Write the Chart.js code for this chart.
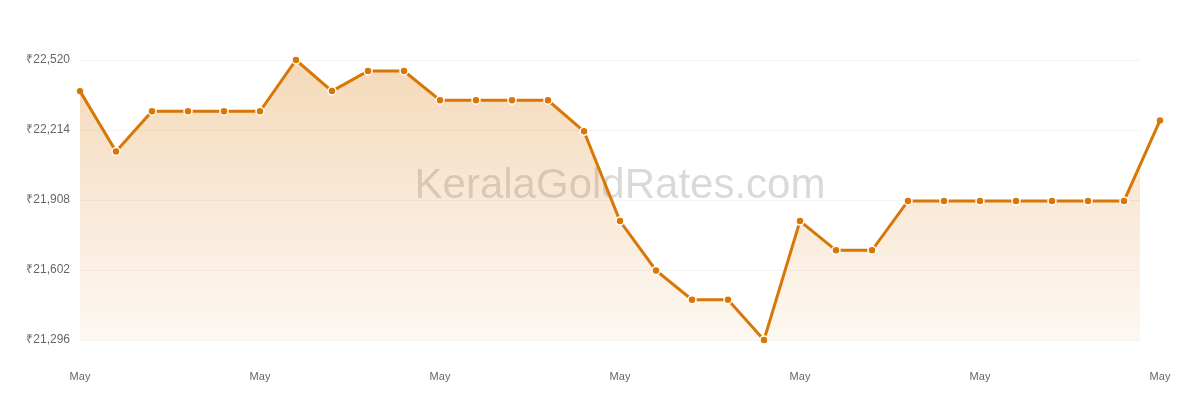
<!DOCTYPE html>
<html>
<head>
<meta charset="utf-8">
<script src="https://cdn.jsdelivr.net/npm/chart.js@4/dist/chart.umd.min.js"></script>
<style>
  html, body { margin: 0; padding: 0; background: #fff; }
  #wrap { width: 1200px; height: 400px; }
</style>
</head>
<body>
<div id="wrap"><canvas id="goldChart"></canvas></div>
<script>
// days of the month shown on the x axis
const days = [1, 2, 3, 4, 5, 6, 7, 8, 9, 10, 11, 12, 13, 14, 15, 16,
              17, 18, 19, 20, 21, 22, 23, 24, 25, 26, 27, 28, 29, 30, 31];
const monthLabel = 'May';
const labeledDays = [1, 6, 11, 16, 21, 26, 31];

// rate per 8 gram (₹)
const rates = [22384, 22120, 22296, 22296, 22296, 22296, 22520, 22384,
               22472, 22472, 22344, 22344, 22344, 22344, 22208, 21816,
               21600, 21472, 21472, 21296, 21816, 21688, 21688, 21904,
               21904, 21904, 21904, 21904, 21904, 21904, 22256];

const yTicks = [21296, 21602, 21908, 22214, 22520];

const lineColor = '#d97706';

Chart.defaults.font.family = "'Liberation Sans', Arial, Helvetica, sans-serif";

const watermark = {
    id: 'watermark',
    beforeDatasetsDraw(chart) {
        const c = chart.ctx;
        c.save();
        c.font = "42px 'Liberation Sans', Arial, sans-serif";
        c.fillStyle = 'rgba(0,0,0,0.15)';
        c.textAlign = 'center';
        c.textBaseline = 'middle';
        c.fillText('KeralaGoldRates.com', 620, 186);
        c.restore();
    }
};

// the last point sits past the right edge of the plot area, draw it anyway
const edgePoint = {
    id: 'edgePoint',
    afterDatasetsDraw(chart) {
        const meta = chart.getDatasetMeta(0);
        const pt = meta.data[meta.data.length - 1];
        if (!pt) return;
        pt.draw(chart.ctx, { left: 0, top: 0, right: chart.width, bottom: chart.height });
    }
};

function fillGradient(context) {
    const area = context.chart.chartArea;
    if (!area) return 'rgba(217,119,6,0.15)';
    const g = context.chart.ctx.createLinearGradient(0, area.top, 0, area.bottom);
    g.addColorStop(0, 'rgba(217,119,6,0.28)');
    g.addColorStop(1, 'rgba(217,119,6,0.05)');
    return g;
}

const lastIdx = rates.length - 1;
const isEnd = ctx => ctx.dataIndex === 0 || ctx.dataIndex === lastIdx;

new Chart(document.getElementById('goldChart'), {
    type: 'line',
    data: {
        datasets: [{
            label: 'Gold rate',
            data: days.map((d, i) => ({ x: d, y: rates[i] })),
            borderColor: lineColor,
            borderWidth: 3,
            backgroundColor: fillGradient,
            fill: 'start',
            tension: 0,
            clip: false,
            pointRadius: ctx => isEnd(ctx) ? 3.2 : 4,
            pointBackgroundColor: lineColor,
            pointBorderColor: '#fff',
            pointBorderWidth: ctx => isEnd(ctx) ? 0 : 1.5
        }]
    },
    options: {
        responsive: true,
        maintainAspectRatio: false,
        animation: false,
        layout: { padding: { left: 0, right: 60, top: 60, bottom: 0 } },
        plugins: {
            legend: { display: false },
            tooltip: { enabled: false }
        },
        scales: {
            x: {
                type: 'linear',
                min: 1,
                max: 1 + 1060 / 36,
                grid: { display: false },
                border: { display: false },
                afterBuildTicks: scale => {
                    scale.ticks = labeledDays.map(v => ({ value: v }));
                },
                afterFit: scale => { scale.height = 60; },
                ticks: {
                    padding: 22,
                    maxRotation: 0,
                    autoSkip: false,
                    color: '#666',
                    font: { size: 11 },
                    callback: () => monthLabel
                }
            },
            y: {
                min: yTicks[0],
                max: yTicks[yTicks.length - 1],
                grid: { color: 'rgba(0,0,0,0.045)', drawTicks: false },
                border: { display: false },
                afterBuildTicks: scale => {
                    scale.ticks = yTicks.map(v => ({ value: v }));
                },
                afterFit: scale => { scale.width = 80; },
                ticks: {
                    padding: 10,
                    color: '#666',
                    font: { size: 12 },
                    callback: v => '₹' + Number(v).toLocaleString('en-IN')
                }
            }
        }
    },
    plugins: [watermark, edgePoint]
});
</script>
</body>
</html>
